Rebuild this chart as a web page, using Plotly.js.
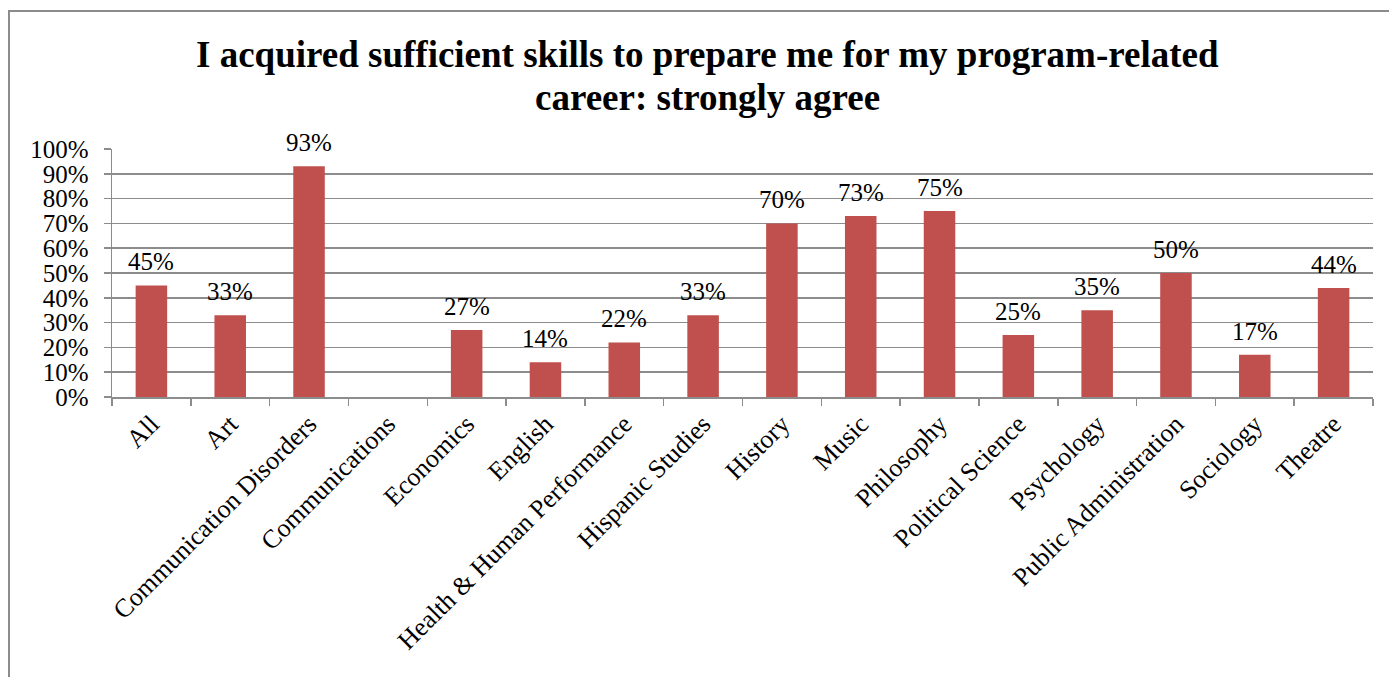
<!DOCTYPE html>
<html>
<head>
<meta charset="utf-8">
<script src="https://cdn.plot.ly/plotly-3.0.1.min.js"></script>
<style>
html,body{margin:0;padding:0;background:#fff;overflow:hidden;}
#frame{position:absolute;left:8px;top:10px;width:1400px;height:700px;border:2px solid #8c8c8c;box-sizing:border-box;pointer-events:none;z-index:5;}
#chart{position:absolute;left:0;top:0;width:1389px;height:677px;}
</style>
</head>
<body>
<div id="chart"></div>
<div id="frame"></div>
<script>
const categories = ["All","Art","Communication Disorders","Communications","Economics","English","Health & Human Performance","Hispanic Studies","History","Music","Philosophy","Political Science","Psychology","Public Administration","Sociology","Theatre"];
const values = [0.45,0.33,0.93,null,0.27,0.14,0.22,0.33,0.70,0.73,0.75,0.25,0.35,0.50,0.17,0.44];
const yTickVals = [0,0.1,0.2,0.3,0.4,0.5,0.6,0.7,0.8,0.9,1.0];
const yTickText = ["0%","10%","20%","30%","40%","50%","60%","70%","80%","90%","100%"];
const titleLines = ["I acquired sufficient skills to prepare me for my program-related","career: strongly agree"];

const font = '"Times New Roman", "Liberation Serif", serif';
const annotations = [];
categories.forEach((c,i)=>{
  if(values[i]===null) return;
  annotations.push({x:c,y:values[i],xref:'x',yref:'y',text:Math.round(values[i]*100)+'%',
    showarrow:false,yanchor:'bottom',yshift:8,font:{family:font,size:25,color:'#000'}});
});
// title lines placed in paper coordinates
const H = 677, T = 149, B = 280, plotH = H - T - B;
[55, 97].forEach((py, k)=>{
  annotations.push({xref:'paper',yref:'paper',x:0.472,y:(H - B - py)/plotH,xanchor:'center',yanchor:'middle',
    text:'<b>'+titleLines[k]+'</b>',showarrow:false,font:{family:font,size:37,color:'#000'}});
});

const trace = {type:'bar',x:categories,y:values,width:0.4,
  marker:{color:'#C0504D'},hoverinfo:'none'};

const layout = {
  width:1389,height:677,
  margin:{l:112,r:16,t:T,b:B},
  paper_bgcolor:'#fff',plot_bgcolor:'#fff',
  showlegend:false,
  xaxis:{type:'category',tickangle:-45,tickfont:{family:font,size:26,color:'#000'},
    showline:true,linecolor:'#8c8c8c',linewidth:1.5,ticks:'outside',ticklen:7,tickcolor:'#8c8c8c',tickwidth:1.5,
    tickson:'boundaries',showgrid:false,fixedrange:true},
  yaxis:{range:[0,1],tickvals:yTickVals,ticktext:yTickText,tickfont:{family:font,size:25,color:'#000'},
    showline:true,linecolor:'#8c8c8c',linewidth:1.5,ticks:'outside',ticklen:7,tickcolor:'#8c8c8c',tickwidth:1.5,
    showgrid:true,gridcolor:'#8c8c8c',gridwidth:1.5,zeroline:false,ticklabelstandoff:10,fixedrange:true},
  annotations:annotations
};
Plotly.newPlot('chart',[trace],layout,{displayModeBar:false,staticPlot:true});
</script>
</body>
</html>
